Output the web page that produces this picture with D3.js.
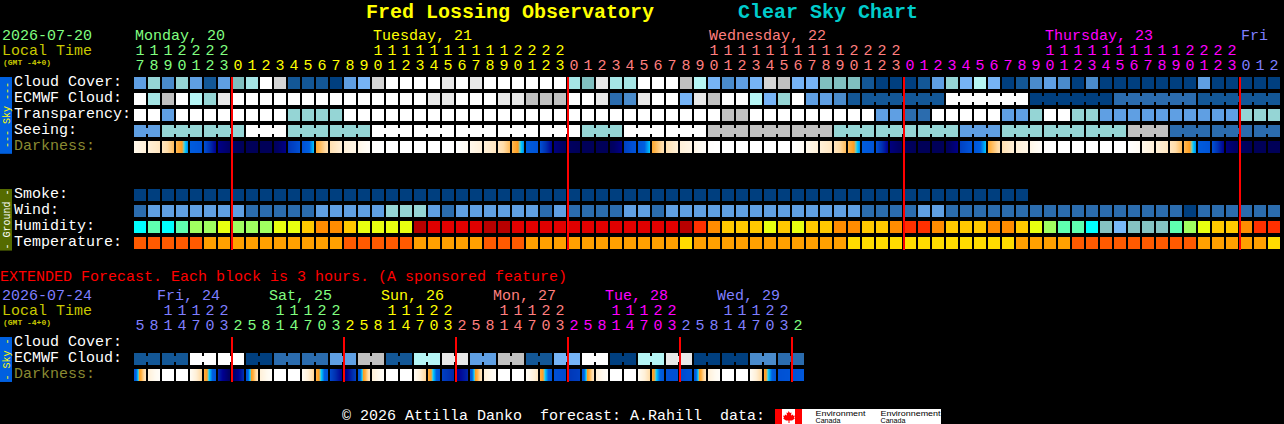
<!DOCTYPE html>
<html>
<head>
<meta charset="utf-8">
<title>Fred Lossing Observatory Clear Sky Chart</title>
<script src="https://d3js.org/d3.v7.min.js"></script>
<style>
html,body{margin:0;padding:0;background:#000;overflow:hidden}
svg{display:block}
text{font-family:"Liberation Mono",monospace;font-size:15px;white-space:pre}
</style>
</head>
<body>
<svg id="c" width="1284" height="424"></svg>
<script>
// ---- hour tick labels ----
const mainHours=[17,18,19,20,21,22,23,0,1,2,3,4,5,6,7,8,9,10,11,12,13,14,15,16,17,18,19,20,21,22,23,0,1,2,3,4,5,6,7,8,9,10,11,12,13,14,15,16,17,18,19,20,21,22,23,0,1,2,3,4,5,6,7,8,9,10,11,12,13,14,15,16,17,18,19,20,21,22,23,0,1,2];
const mainHourDay=[0,0,0,0,0,0,0,1,1,1,1,1,1,1,1,1,1,1,1,1,1,1,1,1,1,1,1,1,1,1,1,2,2,2,2,2,2,2,2,2,2,2,2,2,2,2,2,2,2,2,2,2,2,2,2,3,3,3,3,3,3,3,3,3,3,3,3,3,3,3,3,3,3,3,3,3,3,3,3,4,4,4];
const mainDayLabels=["Monday, 20","Tuesday, 21","Wednesday, 22","Thursday, 23","Fri"];
const mainDayStart=[0,17,41,65,79];
const mainDayColors=["#80ff80","#ffff00","#ff7f7f","#ff00ff","#7f7fff"];
const midnightsMain=[7,31,55,79];

const extHours=[5,8,11,14,17,20,23,2,5,8,11,14,17,20,23,2,5,8,11,14,17,20,23,2,5,8,11,14,17,20,23,2,5,8,11,14,17,20,23,2,5,8,11,14,17,20,23,2];
const extHourDay=[0,0,0,0,0,0,0,1,1,1,1,1,1,1,1,2,2,2,2,2,2,2,2,3,3,3,3,3,3,3,3,4,4,4,4,4,4,4,4,5,5,5,5,5,5,5,5,6];
const extDayLabels=["Fri, 24","Sat, 25","Sun, 26","Mon, 27","Tue, 28","Wed, 29"];
const extDayStart=[2,10,18,26,34,42];
const extDayColors=["#7f7fff","#80ff80","#ffff00","#ff7f7f","#ff00ff","#7f7fff","#80ff80"];
const midnightsExt=[7,15,23,31,39,47];

// ---- sky levels (0 clear dark blue ... 10 white, 11-13 greys) ----
const cloudCover=[4,7,3,7,4,1,4,6,8,10,12,1,1,1,0,4,5,12,10,10,10,10,11,10,11,10,10,10,10,10,10,8,6,11,8,8,10,10,10,13,9,5,3,4,5,12,13,5,5,6,6,6,1,0,0,0,1,4,7,5,9,5,0,1,3,4,3,0,3,0,0,0,0,0,0,0,4,0,0,0,0,0];
const ecmwfValues=[10,8,13,10,9,7,11,10,10,10,10,10,10,10,10,10,10,10,10,10,10,11,11,10,10,10,11,11,13,13,13,10,10,11,2,3,11,10,10,5,11,13,10,10,9,5,7,10,4,4,3,1,1,10,0,2,1];
const ecmwfSpans=[1,1,1,1,1,1,1,1,1,1,1,1,1,1,1,1,1,1,1,1,1,1,1,1,1,1,1,1,1,1,1,1,1,1,1,1,1,1,1,1,1,1,1,1,1,1,1,1,1,1,1,1,6,6,6,6,6];
const transparency=[10,10,4,10,10,10,10,10,10,10,10,7,7,7,7,10,10,10,10,10,10,10,10,10,10,10,10,10,10,10,10,10,10,10,10,10,10,10,10,10,10,10,13,13,10,10,10,10,10,10,10,10,10,4,4,2,2,10,10,10,10,10,4,4,7,10,10,7,7,4,4,4,4,4,4,4,4,4,4,7,7,7];
const seeingValues=[4,7,7,10,7,7,10,10,10,10,10,7,10,10,13,13,13,7,7,7,4,7,7,7,13,2,2,2];
const seeingSpans=[2,3,3,3,3,3,3,3,3,3,3,3,3,3,3,3,3,3,3,3,3,3,3,3,3,3,3,2];
// ---- darkness: value at the left and right edge of each block ----
const darkStart=[12,20,25,36,54,60,82,90,96,96,94,68,60,40,28,20,14,2,0,0,0,0,0,0,12,20,25,36,54,60,84,92,96,96,94,65,58,40,28,20,14,2,0,0,0,0,0,0,12,20,25,36,54,60,84,92,96,96,94,65,58,40,28,20,14,2,0,0,0,0,0,0,12,20,25,36,54,60,84,92,96,96];
const darkEnd=[20,25,36,50,58,80,90,96,96,96,82,60,47,28,20,14,4,0,0,0,0,0,0,8,20,25,36,50,58,80,92,96,96,96,82,58,47,28,20,14,4,0,0,0,0,0,0,8,20,25,36,50,58,80,92,96,96,96,82,58,47,28,20,14,4,0,0,0,0,0,0,8,20,25,36,50,58,80,92,96,96,96];
// ---- ground ----
const smoke=[0,0,0,0,0,0,0,0,0,0,0,0,0,0,0,0,0,0,0,0,0,0,0,0,0,0,0,0,0,0,0,0,0,0,0,0,0,0,0,0,0,0,0,0,0,0,0,0,0,0,0,0,0,0,0,0,0,0,0,0,0,0,0,0];
const wind=[2,4,4,4,4,4,4,4,2,2,2,2,2,4,4,4,4,4,7,7,7,4,2,4,4,4,4,4,4,2,4,2,2,2,2,4,4,2,4,4,4,4,4,4,4,4,4,4,4,4,4,4,2,2,2,2,4,4,2,2,2,2,2,2,2,2,2,2,2,2,2,2,2,2,2,0,2,2,2,2,2,2];
const humidity=[2,3,2,3,4,4,5,4,4,4,5,5,6,7,7,6,5,5,5,5,10,9,9,9,9,10,10,9,9,9,9,9,9,9,9,9,9,9,9,10,8,7,6,6,6,5,6,5,6,6,7,7,6,6,7,8,8,7,6,6,6,7,7,6,5,4,3,3,2,1,0,1,1,1,3,4,5,6,6,7,8,8];
const temperature=[0,0,0,0,0,1,1,1,1,1,1,1,1,1,1,0,0,0,0,0,1,1,1,1,1,0,0,0,1,1,1,1,1,1,1,1,1,1,1,2,1,1,1,1,1,1,1,1,1,1,1,2,2,2,2,2,2,2,2,2,2,2,2,1,1,1,1,0,0,0,0,0,0,0,0,0,1,1,1,1,1,2];
// ---- extended forecast ----
const extEcmwfValues=[1,1,10,10,0,2,2,4,13,1,9,11,4,13,1,5,10,0,9,11,0,0,3,2];
const extEcmwfSpans=[2,2,2,2,2,2,2,2,2,2,2,2,2,2,2,2,2,2,2,2,2,2,2,2];
const extDarkStart=[58,20,0,0,8,38,72,92,58,20,0,0,8,38,62,85,58,20,0,0,8,38,65,82,58,20,0,0,6,38,60,68,58,20,0,0,8,40,60,62,58,20,0,0,8,40,60,60];
const extDarkEnd=[25,4,0,0,32,58,92,70,25,4,0,0,32,58,80,65,25,4,0,0,32,58,72,72,25,4,0,0,25,58,62,65,25,4,0,0,30,58,60,58,25,4,0,0,32,58,58,56];

// ---- palettes and scales ----
const skyColor=d3.scaleOrdinal(d3.range(14),["#003f7f","#135796","#2b6cae","#4a8bcb","#5f9fe3","#76b4f6","#80bfbf","#95d5d5","#a5e5e5","#b5f5f5","#ffffff","#e8e8e8","#d4d4d4","#c0c0c0"]);
const humColor=d3.scaleOrdinal(d3.range(11),["#78b8f8","#85c2c2","#00ffff","#5fffb0","#a0ff60","#e8ff10","#ffc800","#ff8c00","#ff3000","#e00000","#b80000"]);
const tempColor=d3.scaleOrdinal([0,1,2],["#ff5a00","#ffa000","#ffdc00"]);
const darkColor=d3.scaleLinear()
  .domain([0,10,20,30,38,43,45,47,52,60,70,80,90,100])
  .range(["#ffffff","#fffaf0","#fff0d8","#ffdca8","#ffb040","#ff9c20","#80c8b0","#00c8ff","#0060e0","#0050d4","#0030b0","#000090","#000064","#000050"]);

const x=d3.scaleLinear().domain([0,1]).range([134,148]);
const y=d3.scaleLinear().domain([0,1]).range([77,93]);
const CELL=12, svg=d3.select("#c");

function label(s,px,py,color,extra){
  const t=svg.append("text").attr("x",px).attr("y",py).attr("fill",color).text(s);
  if(extra) extra(t);
  return t;
}
function cells(values,row,color){
  svg.append("g").attr("shape-rendering","crispEdges").selectAll("rect").data(values).join("rect")
    .attr("x",(d,i)=>x(i)).attr("y",y(row)).attr("width",CELL).attr("height",CELL).attr("fill",d=>color(d));
}
function runs(values,spans,row){
  const expanded=[],links=[];
  let pos=0;
  values.forEach((v,k)=>{
    for(let s=0;s<spans[k];s++){
      expanded.push(v);
      if(s>0) links.push({i:pos+s,v});
    }
    pos+=spans[k];
  });
  cells(expanded,row,skyColor);
  svg.append("g").attr("shape-rendering","crispEdges").selectAll("rect").data(links).join("rect")
    .attr("x",d=>x(d.i)-2).attr("y",y(row)+3).attr("width",2).attr("height",6).attr("fill",d=>skyColor(d.v));
}
function darkness(start,end,row){
  const g=svg.append("g").attr("shape-rendering","crispEdges");
  start.forEach((s,i)=>{
    d3.range(CELL).forEach(k=>{
      g.append("rect").attr("x",x(i)+k).attr("y",y(row)).attr("width",1).attr("height",CELL)
       .attr("fill",darkColor(s+(end[i]-s)*(k+0.5)/CELL));
    });
  });
}
function hourLabels(hours,dayIdx,colors,rowTens,rowOnes){
  hours.forEach((h,i)=>{
    const c=colors[dayIdx[i]],cx=x(i)+6;
    if(h>=10) label(Math.floor(h/10),cx,rowTens,c,t=>t.attr("text-anchor","middle"));
    label(h%10,cx,rowOnes,c,t=>t.attr("text-anchor","middle"));
  });
}
function sideBar(row0,row1,fill,txt,tcolor,cy){
  svg.append("rect").attr("x",0).attr("y",y(row0)).attr("width",12).attr("height",y(row1)-y(row0)).attr("fill",fill);
  svg.append("text").attr("transform",`translate(9.5,${cy}) rotate(-90)`).attr("text-anchor","middle")
    .attr("fill",tcolor).style("font-size","10px").text(txt);
}
function redLines(list,y0,y1){
  svg.append("g").attr("shape-rendering","crispEdges").selectAll("rect").data(list).join("rect")
    .attr("x",d=>x(d)-1).attr("y",y0).attr("width",2).attr("height",y1-y0).attr("fill","#ff0000");
}

// title
label("Fred Lossing Observatory",366,18,"#ffff00",t=>t.style("font-size","20px").style("font-weight","bold"));
label("Clear Sky Chart",738,18,"#00cccc",t=>t.style("font-size","20px").style("font-weight","bold"));

// header
label("2026-07-20",2,40,"#80ff80");
label("Local Time",2,55,"#c8c800");
label("(GMT -4+0)",3,65,"#c8c800",t=>t.style("font-size","8px").style("font-weight","bold"));
mainDayLabels.forEach((s,k)=>label(s,x(mainDayStart[k])+1,40,mainDayColors[k]));
hourLabels(mainHours,mainHourDay,mainDayColors,55,70);

// main rows
const WHITE="#ffffff",DARKLBL="#8a8a32";
[["Cloud Cover:",0,WHITE],["ECMWF Cloud:",1,WHITE],["Transparency:",2,WHITE],["Seeing:",3,WHITE],["Darkness:",4,DARKLBL],
 ["Smoke:",7,WHITE],["Wind:",8,WHITE],["Humidity:",9,WHITE],["Temperature:",10,WHITE]]
 .forEach(([s,r,c])=>label(s,14,y(r)+9,c));
sideBar(0,4.8,"#0060e0","--- Sky ---","#ffff00",115);
sideBar(7,10.85,"#556b00","- Ground -","#ffffff",219.5);
cells(cloudCover,0,skyColor);
runs(ecmwfValues,ecmwfSpans,1);
cells(transparency,2,skyColor);
runs(seeingValues,seeingSpans,3);
darkness(darkStart,darkEnd,4);
cells(smoke,7,skyColor);
cells(wind,8,skyColor);
cells(humidity,9,humColor);
cells(temperature,10,tempColor);
redLines(midnightsMain,77,250);

// extended
label("EXTENDED Forecast. Each block is 3 hours. (A sponsored feature)",0,281,"#ff0000");
label("2026-07-24",2,300,"#7f7fff");
label("Local Time",2,315,"#c8c800");
label("(GMT -4+0)",3,325,"#c8c800",t=>t.style("font-size","8px").style("font-weight","bold"));
extDayLabels.forEach((s,k)=>label(s,x(extDayStart[k])-5,300,extDayColors[k]));
hourLabels(extHours,extHourDay,extDayColors,315,330);
[["Cloud Cover:",16.25,WHITE],["ECMWF Cloud:",17.25,WHITE],["Darkness:",18.25,DARKLBL]]
 .forEach(([s,r,c])=>label(s,14,y(r)+9,c));
sideBar(16.25,19.06,"#0060e0","- Sky -","#ffff00",359.5);
runs(extEcmwfValues,extEcmwfSpans,17.25);
darkness(extDarkStart,extDarkEnd,18.25);
redLines(midnightsExt,337,382);

// footer
label("\u00a9 2026 Attilla Danko  forecast: A.Rahill  data:",342,420,"#ffffff");
svg.append("rect").attr("x",775).attr("y",409).attr("width",166).attr("height",15).attr("fill","#fff");
svg.append("rect").attr("x",775).attr("y",409).attr("width",7).attr("height",15).attr("fill","#ff0000");
svg.append("rect").attr("x",795).attr("y",409).attr("width",7).attr("height",15).attr("fill","#ff0000");
svg.append("path").attr("d","M788.5 411l1.5 2 1.5-.5-.5 3 2-1 .5 1.500 1.500-.5-1 2.500 1 .5-3 2h-2.500v2.500h-1v-2.500h-2.500l-3-2 1-.5-1-2.500 1.500.5.500-1.500 2 1-.5-3 1.500.5z").attr("fill","#ff0000");
[["Environment",815.5,415.5,50],["Canada",815.5,423,25],["Environnement",880.5,415.5,60],["Canada",880.5,423,25]].forEach(([s,px,py,w])=>{
  svg.append("text").attr("x",px).attr("y",py).attr("fill","#000").attr("textLength",w).attr("lengthAdjust","spacingAndGlyphs")
    .style("font-family","'Liberation Sans',sans-serif").style("font-size","8px").text(s);
});
</script>
</body>
</html>
